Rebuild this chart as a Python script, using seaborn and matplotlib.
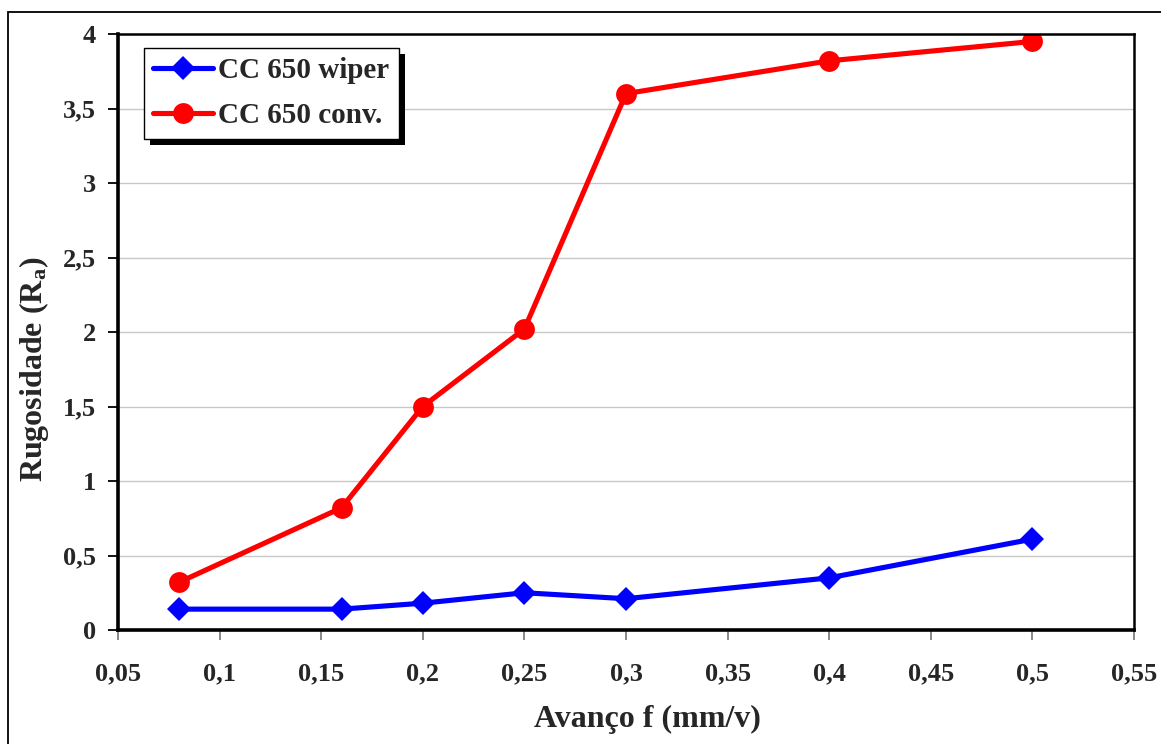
import numpy as np
import pandas as pd
import matplotlib
matplotlib.use("Agg")
import matplotlib.pyplot as plt
from matplotlib.patches import Rectangle
import seaborn as sns

# Feed rate (mm/rev) and measured roughness Ra for the two inserts
avanco = [0.08, 0.16, 0.2, 0.25, 0.3, 0.4, 0.5]
ra_wiper = [0.14, 0.14, 0.18, 0.25, 0.21, 0.35, 0.61]
ra_conv = [0.32, 0.82, 1.50, 2.02, 3.60, 3.82, 3.95]
series_names = ["CC 650 wiper", "CC 650 conv."]

x_ticks = [0.05, 0.1, 0.15, 0.2, 0.25, 0.3, 0.35, 0.4, 0.45, 0.5, 0.55]
x_labels = ["0,05", "0,1", "0,15", "0,2", "0,25", "0,3", "0,35", "0,4", "0,45", "0,5", "0,55"]
y_ticks = [0, 0.5, 1, 1.5, 2, 2.5, 3, 3.5, 4]
y_labels = ["0", "0,5", "1", "1,5", "2", "2,5", "3", "3,5", "4"]

df = pd.DataFrame({
    "f": avanco * 2,
    "Ra": ra_wiper + ra_conv,
    "serie": [series_names[0]] * len(avanco) + [series_names[1]] * len(avanco),
})

sns.set_theme(style="white")
plt.rcParams["font.family"] = ["Liberation Serif", "DejaVu Serif"]
plt.rcParams["font.weight"] = "bold"
plt.rcParams["mathtext.fontset"] = "custom"
plt.rcParams["mathtext.rm"] = "Liberation Serif:bold"
plt.rcParams["mathtext.bf"] = "Liberation Serif:bold"
plt.rcParams["mathtext.it"] = "Liberation Serif:bold"

W, H = 1161, 744
fig = plt.figure(figsize=(W / 100, H / 100), dpi=100)
fig.patch.set_facecolor("white")
ax = fig.add_axes([118 / W, 1 - 630 / H, (1134 - 118) / W, (630 - 34) / H])

# Outer frame of the chart area
fig.patches.append(Rectangle((8 / W, -0.1), 1.2, (1 - 12 / H) + 0.1,
                             transform=fig.transFigure, fill=False,
                             edgecolor="black", linewidth=1.3, zorder=0))

ax.grid(axis="y", color="#c8c8c8", linewidth=1.0)
ax.set_axisbelow(True)

sns.lineplot(data=df, x="f", y="Ra", hue="serie", style="serie",
             palette={series_names[0]: "#0000ff", series_names[1]: "#ff0000"},
             markers={series_names[0]: "D", series_names[1]: "o"},
             dashes=False, linewidth=3.7, markeredgewidth=0,
             ax=ax, legend=False)
# marker sizes per series
for line, ms in zip(ax.get_lines(), [12.5, 15]):
    line.set_markersize(ms)

ax.set_xlim(0.05, 0.55)
ax.set_ylim(0, 4)
ax.set_xticks(x_ticks)
ax.set_xticklabels(x_labels)
ax.set_yticks(y_ticks)
ax.set_yticklabels(y_labels)

ax.tick_params(axis="x", direction="out", length=7, width=1.3, color="#808080",
               pad=16, labelsize=19, bottom=True)
ax.tick_params(axis="y", direction="out", length=7, width=1.3, color="black",
               pad=9, labelsize=19, left=True)
for lab in ax.get_xticklabels() + ax.get_yticklabels():
    lab.set_fontweight("bold")

for side in ["left", "bottom"]:
    ax.spines[side].set_linewidth(2.6)
    ax.spines[side].set_color("black")
for side in ["top", "right"]:
    ax.spines[side].set_linewidth(1.8)
    ax.spines[side].set_color("black")

ax.set_xlabel("Avanço f (mm/v)", fontsize=23, fontweight="bold", labelpad=12)
ax.xaxis.set_label_coords(0.521, -0.125)
ax.set_ylabel(r"Rugosidade (R$_{\mathrm{a}}$)", fontsize=23, fontweight="bold")
ax.yaxis.set_label_coords(-0.066, 0.438)

handles = ax.get_lines()[:2]
leg = ax.legend(handles, series_names, loc="upper left",
                bbox_to_anchor=(26 / (1134 - 118), 1 - 14 / (630 - 34)),
                prop={"family": "Liberation Serif", "weight": "bold", "size": 21},
                frameon=True, fancybox=False, framealpha=1, edgecolor="black",
                handlelength=2.05, handletextpad=0.17, borderpad=0.32,
                labelspacing=0.62, borderaxespad=0)
leg.get_frame().set_linewidth(1.0)
leg.set_zorder(10)

# Solid drop shadow behind the legend box
fig.canvas.draw()
bb = leg.get_window_extent()
shadow = Rectangle((bb.x0 + 6, bb.y0 - 6), bb.width, bb.height,
                   transform=None, facecolor="black", edgecolor="none",
                   zorder=9, clip_on=False)
ax.add_artist(shadow)

fig.savefig("out.png", dpi=100, facecolor="white")
